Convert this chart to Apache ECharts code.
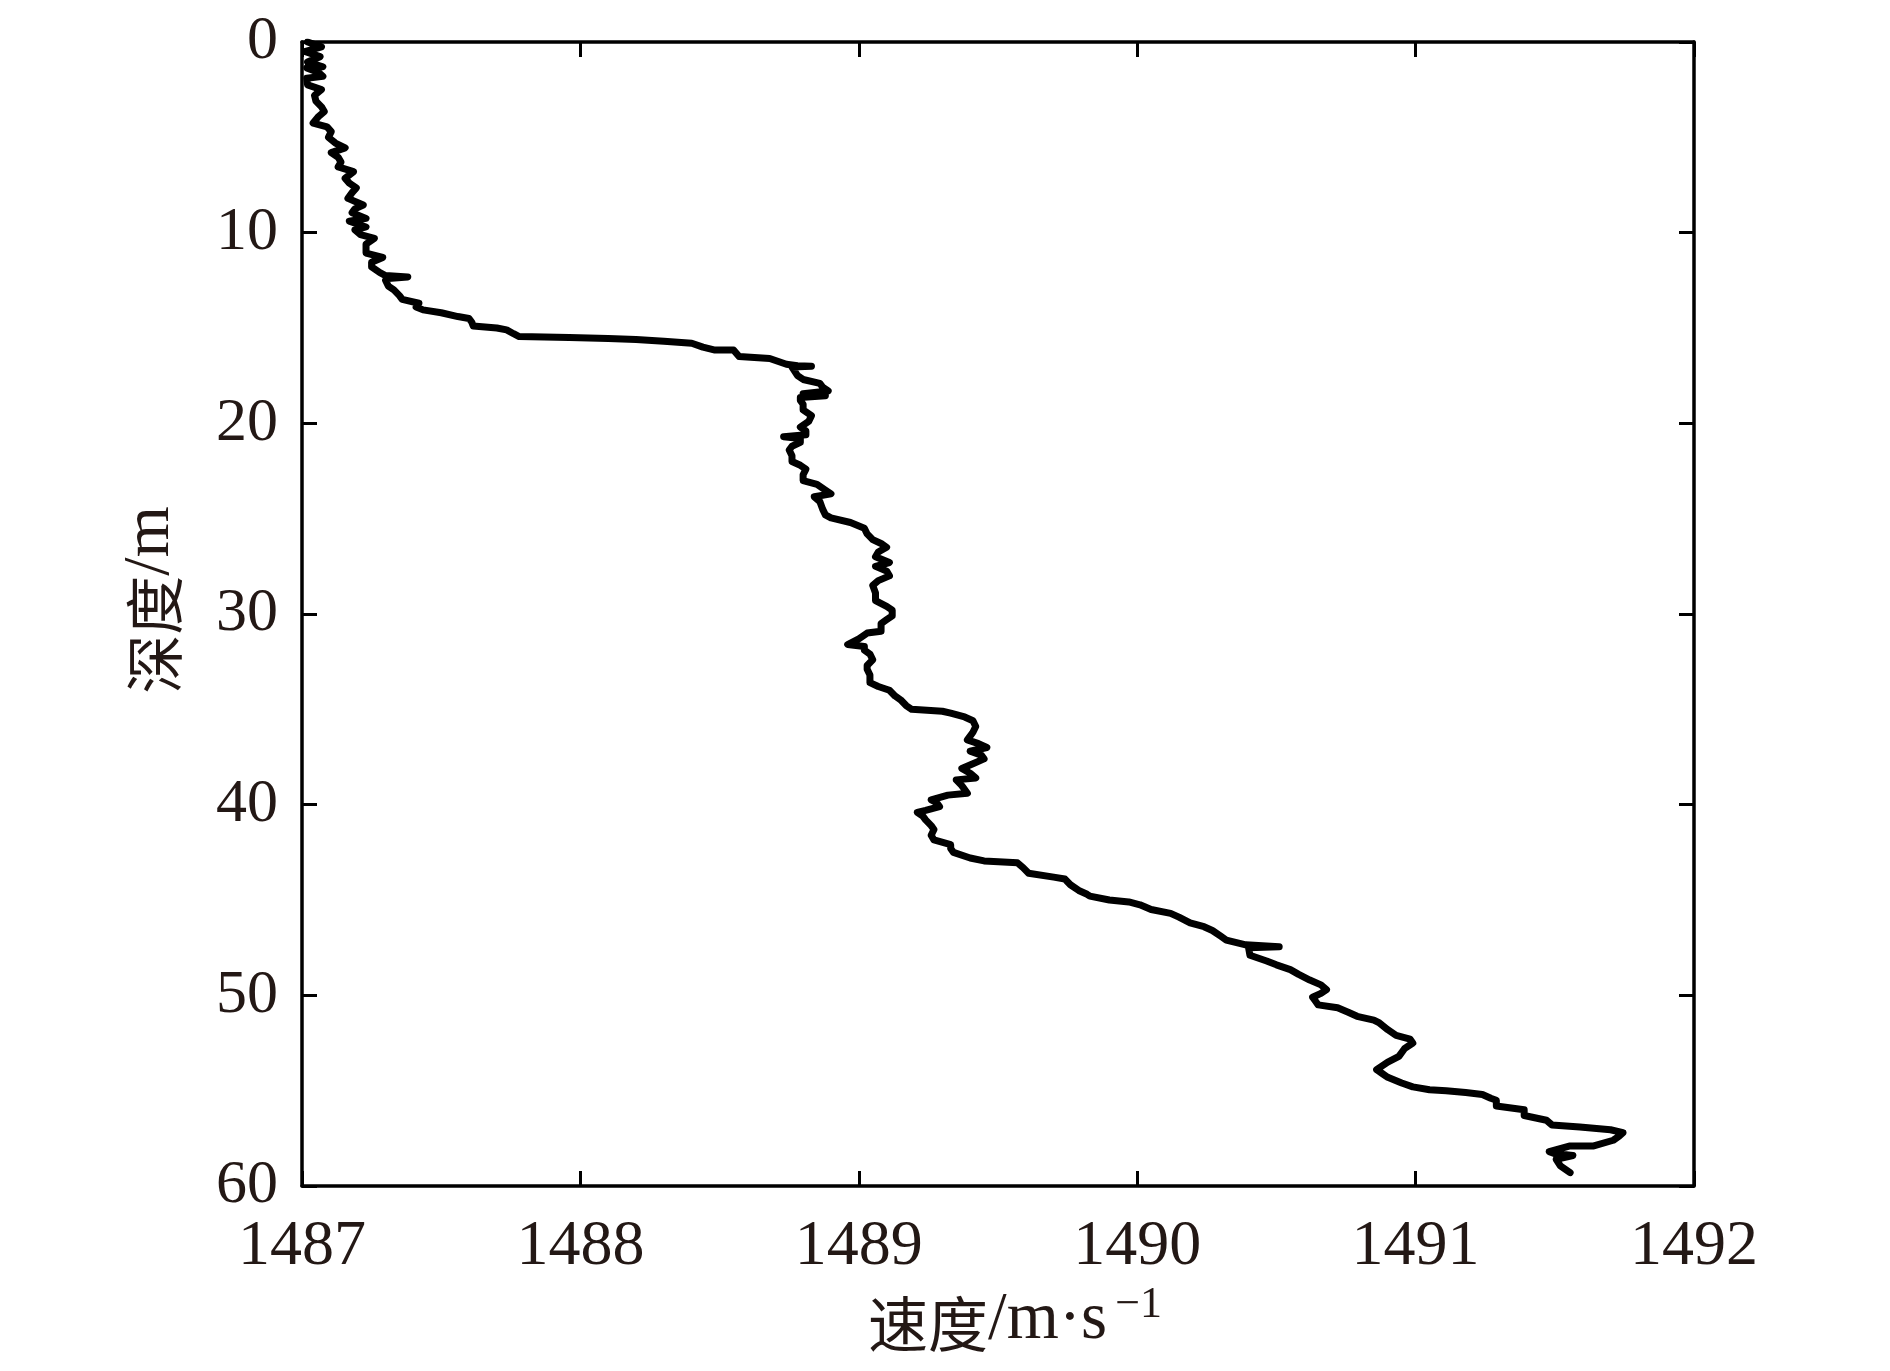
<!DOCTYPE html>
<html>
<head>
<meta charset="utf-8">
<script src="https://cdn.jsdelivr.net/npm/echarts@6/dist/echarts.min.js"></script>
<style>
html,body{margin:0;padding:0;background:#fff;}
#chart{width:1890px;height:1371px;}
</style>
</head>
<body>
<div id="chart"></div>
<script>
// depth (m), top to bottom, in the order the profile was recorded
const depthValues = [
0.0,0.25,0.5,0.77,1.05,1.3,1.36,1.6,1.8,1.9,2.25,2.5,2.8,3.1,3.4,3.65,3.9,4.25,4.45,4.7,
5.0,5.3,5.55,5.8,6.05,6.3,6.55,6.8,7.15,7.4,7.65,7.9,8.2,8.55,8.75,8.95,9.25,9.4,9.7,9.85,
10.1,10.3,10.6,11.07,11.3,11.55,11.8,12.1,12.25,12.32,12.4,12.5,12.8,13.0,13.3,13.5,13.7,13.9,14.05,14.2,
14.4,14.5,14.7,14.9,15.0,15.1,15.3,15.45,15.5,15.55,15.6,15.7,15.8,16.0,16.15,16.15,16.5,16.6,16.9,16.98,
17.0,17.05,17.5,17.7,17.9,18.1,18.3,18.45,18.55,18.65,18.8,19.0,19.3,19.6,19.9,20.2,20.4,20.6,20.7,20.8,
21.0,21.2,21.4,21.7,22.0,22.2,22.4,22.7,23.0,23.2,23.5,23.7,23.85,24.1,24.5,24.8,24.96,25.2,25.5,25.8,
26.1,26.3,26.5,26.75,27.0,27.3,27.5,27.75,28.0,28.25,28.5,28.9,29.3,29.6,29.8,30.1,30.3,30.5,30.9,31.0,
31.3,31.6,31.7,31.9,32.1,32.4,32.7,32.9,33.2,33.6,33.8,34.0,34.3,34.5,34.8,35.0,35.1,35.2,35.4,35.6,
35.9,36.2,36.6,36.8,37.0,37.2,37.4,37.6,37.85,38.1,38.35,38.6,38.7,39.0,39.4,39.5,39.75,39.9,40.1,40.3,
40.4,40.6,40.8,41.1,41.3,41.6,41.85,42.1,42.3,42.5,42.8,42.95,43.05,43.3,43.6,43.8,43.9,44.2,44.5,44.7,
44.8,45.0,45.1,45.25,45.5,45.7,45.9,46.2,46.4,46.6,46.9,47.1,47.35,47.45,47.5,47.9,48.2,48.4,48.65,48.9,
49.2,49.45,49.7,49.9,50.1,50.3,50.5,50.65,50.9,51.1,51.3,51.45,51.8,52.1,52.3,52.5,52.8,53.2,53.5,53.7,
53.9,54.1,54.3,54.6,54.8,54.95,55.0,55.1,55.2,55.4,55.5,55.8,56.0,56.3,56.55,56.8,56.9,57.05,57.2,57.4,
57.6,57.9,57.9,58.2,58.3,58.4,58.6,58.95,59.3
];
// sound speed (m/s) at each depth above
const speedValues = [
1487.02,1487.07,1487.01,1487.065,1487.02,1487.075,1487.017,1487.06,1487.075,1487.017,1487.02,1487.07,1487.045,1487.05,1487.07,1487.08,1487.06,1487.04,1487.09,1487.105,
1487.095,1487.12,1487.155,1487.105,1487.13,1487.14,1487.13,1487.185,1487.155,1487.17,1487.195,1487.18,1487.165,1487.22,1487.19,1487.18,1487.23,1487.17,1487.23,1487.19,
1487.21,1487.26,1487.23,1487.23,1487.29,1487.25,1487.25,1487.28,1487.30,1487.38,1487.31,1487.30,1487.31,1487.33,1487.35,1487.36,1487.42,1487.41,1487.435,1487.50,
1487.56,1487.60,1487.61,1487.615,1487.70,1487.735,1487.76,1487.78,1487.96,1488.10,1488.20,1488.30,1488.40,1488.44,1488.48,1488.55,1488.57,1488.68,1488.74,1488.78,
1488.83,1488.76,1488.78,1488.80,1488.86,1488.87,1488.89,1488.80,1488.88,1488.79,1488.79,1488.80,1488.80,1488.83,1488.82,1488.79,1488.81,1488.81,1488.73,1488.79,
1488.79,1488.76,1488.75,1488.76,1488.76,1488.79,1488.81,1488.80,1488.80,1488.85,1488.88,1488.90,1488.84,1488.86,1488.87,1488.88,1488.90,1488.97,1489.02,1489.03,
1489.05,1489.08,1489.10,1489.07,1489.06,1489.11,1489.06,1489.10,1489.11,1489.07,1489.05,1489.06,1489.06,1489.10,1489.12,1489.12,1489.10,1489.08,1489.08,1489.03,
1489.00,1488.96,1489.02,1489.02,1489.04,1489.05,1489.03,1489.03,1489.04,1489.04,1489.07,1489.11,1489.13,1489.15,1489.17,1489.19,1489.30,1489.33,1489.38,1489.41,
1489.42,1489.41,1489.39,1489.43,1489.46,1489.40,1489.44,1489.45,1489.41,1489.37,1489.40,1489.42,1489.35,1489.37,1489.39,1489.32,1489.26,1489.28,1489.29,1489.24,
1489.21,1489.23,1489.24,1489.26,1489.27,1489.26,1489.27,1489.33,1489.33,1489.34,1489.40,1489.45,1489.57,1489.59,1489.61,1489.70,1489.74,1489.76,1489.79,1489.82,
1489.83,1489.90,1489.97,1490.01,1490.05,1490.12,1490.15,1490.19,1490.24,1490.27,1490.30,1490.32,1490.39,1490.51,1490.40,1490.405,1490.465,1490.50,1490.55,1490.58,
1490.62,1490.66,1490.68,1490.66,1490.63,1490.64,1490.65,1490.72,1490.76,1490.79,1490.85,1490.87,1490.90,1490.93,1490.98,1490.99,1490.96,1490.94,1490.90,1490.88,
1490.86,1490.88,1490.90,1490.95,1490.99,1491.05,1491.11,1491.18,1491.24,1491.27,1491.29,1491.29,1491.39,1491.39,1491.47,1491.49,1491.59,1491.70,1491.745,1491.73,
1491.71,1491.64,1491.555,1491.48,1491.50,1491.565,1491.505,1491.52,1491.555
];
const speedTicks = [1487, 1488, 1489, 1490, 1491, 1492];
const depthTicks = [0, 10, 20, 30, 40, 50, 60];
const xTitle = ['速度', '/m·s', '−1'];
const yTitle = ['深度', '/m'];

const profile = depthValues.map((d, i) => [speedValues[i], d]);

const textColor = '#231815';
const serif = '"Liberation Serif", "DejaVu Serif", serif';
const cjk = '"Noto Sans CJK SC", sans-serif';
const axisLine = {show: true, onZero: false, lineStyle: {color: '#000', width: 3.5}};
const axisTick = {show: true, inside: true, length: 15, lineStyle: {color: '#000', width: 3}};

const chart = echarts.init(document.getElementById('chart'), null, {renderer: 'canvas'});
chart.setOption({
  animation: false,
  backgroundColor: '#fff',
  grid: {left: 302, top: 42, width: 1392, height: 1144, containLabel: false},
  xAxis: [{
    type: 'value', position: 'bottom',
    min: speedTicks[0], max: speedTicks[speedTicks.length - 1], interval: 1,
    axisLine: axisLine, axisTick: axisTick, splitLine: {show: false},
    axisLabel: {margin: 29, fontSize: 64, fontFamily: serif, color: textColor,
      formatter: v => String(v)},
    name: '{c|' + xTitle[0] + '}{l|' + xTitle[1] + '}{s|' + xTitle[2] + '}',
    nameLocation: 'middle', nameGap: 96,
    nameTextStyle: {
      padding: [0, 0, 0, 34],
      rich: {
        c: {fontFamily: cjk, fontSize: 60, color: textColor, lineHeight: 70, verticalAlign: 'bottom'},
        l: {fontFamily: serif, fontSize: 67, color: textColor, lineHeight: 70, verticalAlign: 'bottom'},
        s: {fontFamily: serif, fontSize: 44, color: textColor, lineHeight: 46, verticalAlign: 'top', padding: [0, 0, 0, 8]}
      }
    }
  }, {
    type: 'value', position: 'top',
    min: speedTicks[0], max: speedTicks[speedTicks.length - 1], interval: 1,
    axisLine: axisLine, axisTick: axisTick, splitLine: {show: false},
    axisLabel: {show: false}
  }],
  yAxis: [{
    type: 'value', position: 'left', inverse: true,
    min: depthTicks[0], max: depthTicks[depthTicks.length - 1], interval: 10,
    axisLine: axisLine, axisTick: axisTick, splitLine: {show: false},
    axisLabel: {margin: 24, fontSize: 62, fontFamily: serif, color: textColor},
    name: '{c|' + yTitle[0] + '}{l|' + yTitle[1] + '}',
    nameLocation: 'middle', nameGap: 118, nameRotate: 90,
    nameTextStyle: {
      padding: [0, 0, 0, 28],
      rich: {
        c: {fontFamily: cjk, fontSize: 59, color: textColor, lineHeight: 68, verticalAlign: 'bottom'},
        l: {fontFamily: serif, fontSize: 66, color: textColor, lineHeight: 68, verticalAlign: 'bottom'}
      }
    }
  }, {
    type: 'value', position: 'right', inverse: true,
    min: depthTicks[0], max: depthTicks[depthTicks.length - 1], interval: 10,
    axisLine: axisLine, axisTick: axisTick, splitLine: {show: false},
    axisLabel: {show: false}
  }],
  series: [{
    type: 'line',
    xAxisIndex: 0, yAxisIndex: 0,
    data: profile,
    showSymbol: false,
    symbol: 'none',
    smooth: false,
    clip: true,
    lineStyle: {color: '#000', width: 7, join: 'round', cap: 'round'}
  }]
});
</script>
</body>
</html>
